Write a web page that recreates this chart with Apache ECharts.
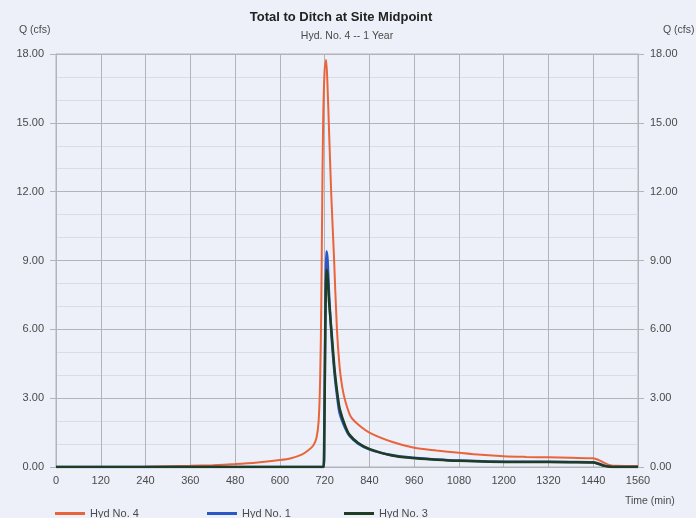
<!DOCTYPE html>
<html>
<head>
<meta charset="utf-8">
<script src="https://cdn.jsdelivr.net/npm/echarts@6/dist/echarts.min.js"></script>
<style>
  html, body { margin: 0; padding: 0; background: #edf0f8; }
  #chart { width: 696px; height: 518px; }
</style>
</head>
<body>
<div id="chart"></div>
<script>
// Time axis ticks (min) and flow axis ticks (cfs)
const timeTicks = [0, 120, 240, 360, 480, 600, 720, 840, 960, 1080, 1200, 1320, 1440, 1560];
const flowTicks = [0, 3, 6, 9, 12, 15, 18];

// Hyd No. 4 — total to ditch
const timeHyd4 = [0, 120, 240, 300, 360, 420, 480, 540, 600, 630, 660, 678, 690, 698, 704, 708, 711, 713, 716, 720, 724, 728, 732, 738, 745, 753, 760, 767, 775, 790, 810, 840, 900, 960, 1020, 1080, 1140, 1200, 1260, 1320, 1380, 1440, 1455, 1470, 1485, 1500, 1560];
const flowHyd4 = [0, 0, 0.01, 0.03, 0.05, 0.08, 0.13, 0.2, 0.3, 0.38, 0.55, 0.75, 0.95, 1.25, 2.0, 3.8, 7.0, 10.5, 15.0, 17.3, 17.74, 16.5, 14.6, 11.8, 9.2, 6, 4.4, 3.5, 2.9, 2.2, 1.85, 1.5, 1.1, 0.84, 0.72, 0.62, 0.53, 0.47, 0.44, 0.42, 0.4, 0.38, 0.3, 0.18, 0.08, 0.05, 0.04];

// Hyd No. 1
const timeHyd1 = [0, 717, 719, 721, 723, 725, 728, 732, 739, 747, 755, 761, 775, 787, 810, 841, 900, 956, 1020, 1080, 1160, 1260, 1380, 1440, 1455, 1470, 1485, 1500, 1560];
const flowHyd1 = [0, 0, 1.5, 5, 8.2, 9.4, 9.0, 7.5, 5.6, 4.0, 2.9, 2.3, 1.7, 1.35, 1.02, 0.76, 0.52, 0.4, 0.33, 0.28, 0.24, 0.23, 0.22, 0.21, 0.14, 0.06, 0.01, 0, 0];

// Hyd No. 3
const timeHyd3 = [0, 717, 719, 721, 723, 725, 728, 732, 739, 747, 755, 761, 775, 787, 810, 841, 900, 956, 1020, 1080, 1160, 1260, 1380, 1440, 1455, 1470, 1485, 1500, 1560];
const flowHyd3 = [0, 0, 1.2, 4.5, 7.6, 8.6, 8.3, 7.2, 5.8, 4.2, 3.1, 2.5, 1.8, 1.4, 1.05, 0.78, 0.5, 0.39, 0.32, 0.27, 0.23, 0.22, 0.21, 0.2, 0.13, 0.05, 0.01, 0, 0];

const pairs = (xs, ys) => xs.map((x, i) => [x, ys[i]]);

const labelColor = '#4a4a4a';
const gridColor = '#b3b3ba';
const minorGridColor = '#d9dbe6';
const fontFamily = '"Liberation Sans", Arial, sans-serif';

const yAxisBase = (position) => ({
  type: 'value',
  position: position,
  min: flowTicks[0],
  max: flowTicks[flowTicks.length - 1],
  interval: flowTicks[1] - flowTicks[0],
  axisLine: { show: true, lineStyle: { color: gridColor, width: 1 } },
  axisTick: { show: true, length: 6, lineStyle: { color: gridColor } },
  minorTick: { show: true, splitNumber: 3, length: 0, lineStyle: { color: 'transparent' } },
  minorSplitLine: { show: position === 'left', lineStyle: { color: minorGridColor, width: 1 } },
  splitLine: { show: position === 'left', lineStyle: { color: gridColor, width: 1 } },
  axisLabel: {
    color: labelColor, fontSize: 11, fontFamily: fontFamily, margin: 12,
    formatter: (v) => v.toFixed(2)
  }
});

const chart = echarts.init(document.getElementById('chart'), null, { renderer: 'canvas' });

const legendItem = (name, left) => ({
  data: [name],
  left: left,
  top: 508,
  padding: 0,
  itemWidth: 30,
  itemHeight: 3,
  itemGap: 10,
  icon: 'rect',
  textStyle: { color: labelColor, fontSize: 11, fontFamily: fontFamily }
});

chart.setOption({
  backgroundColor: '#edf0f8',
  animation: false,
  title: [
    {
      text: 'Total to Ditch at Site Midpoint',
      left: 336, top: 6, textAlign: 'center',
      textStyle: { fontSize: 13, fontWeight: 'bold', color: '#222', fontFamily: fontFamily }
    },
    {
      text: 'Hyd. No. 4 -- 1 Year',
      left: 342, top: 26, textAlign: 'center',
      textStyle: { fontSize: 10.5, fontWeight: 'normal', color: labelColor, fontFamily: fontFamily }
    },
    {
      text: 'Q (cfs)', left: 14, top: 20,
      textStyle: { fontSize: 10.5, fontWeight: 'normal', color: labelColor, fontFamily: fontFamily }
    },
    {
      text: 'Q (cfs)', left: 658, top: 20,
      textStyle: { fontSize: 10.5, fontWeight: 'normal', color: labelColor, fontFamily: fontFamily }
    },
    {
      text: 'Time (min)', left: 620, top: 491,
      textStyle: { fontSize: 10.5, fontWeight: 'normal', color: labelColor, fontFamily: fontFamily }
    }
  ],
  legend: [
    legendItem('Hyd No. 4', 55),
    legendItem('Hyd No. 1', 207),
    legendItem('Hyd No. 3', 344)
  ],
  grid: { left: 56, right: 58, top: 54, bottom: 51, containLabel: false,
          show: true, borderColor: gridColor, borderWidth: 1 },
  xAxis: {
    type: 'value',
    min: timeTicks[0],
    max: timeTicks[timeTicks.length - 1],
    interval: timeTicks[1] - timeTicks[0],
    axisLine: { show: true, onZero: false, lineStyle: { color: gridColor } },
    axisTick: { show: false },
    splitLine: { show: true, lineStyle: { color: gridColor, width: 1 } },
    axisLabel: { color: labelColor, fontSize: 11, fontFamily: fontFamily, margin: 8,
                 formatter: (v) => String(v) }
  },
  yAxis: [yAxisBase('left'), yAxisBase('right')],
  series: [
    {
      name: 'Hyd No. 4', type: 'line', data: pairs(timeHyd4, flowHyd4),
      showSymbol: false, smooth: 0.3, color: '#e8653c',
      lineStyle: { width: 2, color: '#e8653c' }
    },
    {
      name: 'Hyd No. 1', type: 'line', data: pairs(timeHyd1, flowHyd1),
      showSymbol: false, smooth: 0.3, color: '#2a58c4',
      lineStyle: { width: 2.5, color: '#2a58c4' }
    },
    {
      name: 'Hyd No. 3', type: 'line', data: pairs(timeHyd3, flowHyd3),
      showSymbol: false, smooth: 0.3, color: '#1f3d22',
      lineStyle: { width: 2.5, color: '#1f3d22' }
    }
  ]
});
</script>
</body>
</html>
